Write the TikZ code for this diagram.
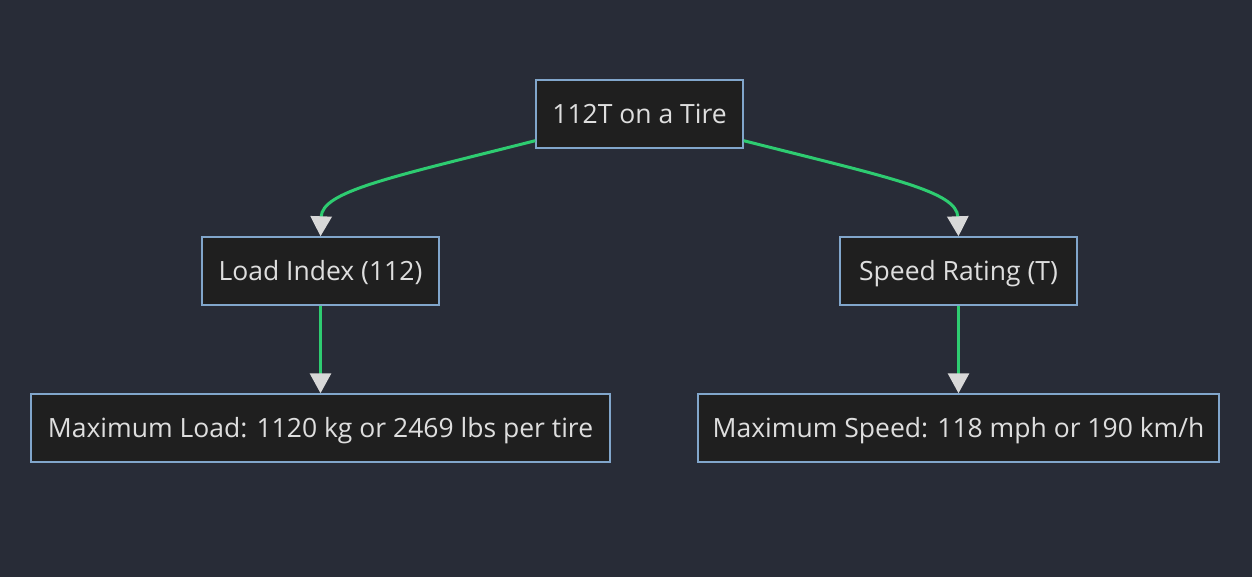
\documentclass[tikz,border=0pt]{standalone}
\usepackage{fontspec}
\setmainfont{Open Sans}
\usetikzlibrary{arrows.meta}
\usetikzlibrary{calc}
\usetikzlibrary{math}

\definecolor{bgslate}{HTML}{282C37}
\definecolor{boxfill}{HTML}{1F1F1F}
\definecolor{boxline}{HTML}{81A6CB}
\definecolor{boxtext}{HTML}{DEDEDE}
\definecolor{linkgreen}{HTML}{2ECC71}
\definecolor{tipgray}{HTML}{D8D8D8}

\tikzset{
    box/.style={draw=boxline,fill=boxfill,line width=1.4pt,text=boxtext,
        minimum height=68pt,inner xsep=12pt,text height=23pt,text depth=4pt,
        font=\fontsize{26.5}{32}\selectfont},
    link/.style={draw=linkgreen,line width=3pt,
        -{Triangle[length=20pt,width=21pt,color=tipgray]}}
}

\begin{document}
\begin{tikzpicture}[x=1pt,y=1pt]
    \tikzmath{  \xl = 320.5 ;
                \xm = 639.5 ;
                \xr = 958.5 ;
                \y1 = 149 ;
                \y2 = 306 ;
                \y3 = 463 ;
                }
    \fill[bgslate] (0,0) rectangle (1252,577);
    \useasboundingbox (0,0) rectangle (1252,577);

    \node[box,minimum width=207pt] (tire) at (\xm,\y3) {112T on a Tire};
    \node[box,minimum width=237pt] (load) at (\xl,\y2) {Load Index (112)};
    \node[box,minimum width=237pt] (speed) at (\xr,\y2) {Speed Rating (T)};
    \node[box,minimum width=579pt] (maxload) at (\xl,\y1) {Maximum Load: 1120 kg or 2469 lbs per tire};
    \node[box,minimum width=521pt] (maxspeed) at (\xr,\y1) {Maximum Speed: 118 mph or 190 km/h};

    \draw[link] ($(tire.south west)+(0,8)$) .. controls +(-146,-37) and +(1.5,45) .. (load.north);
    \draw[link] ($(tire.south east)+(0,8)$) .. controls +(146,-37) and +(-1.5,45) .. (speed.north);
    \draw[link] (load) -- (maxload);
    \draw[link] (speed) -- (maxspeed);
\end{tikzpicture}
\end{document}
